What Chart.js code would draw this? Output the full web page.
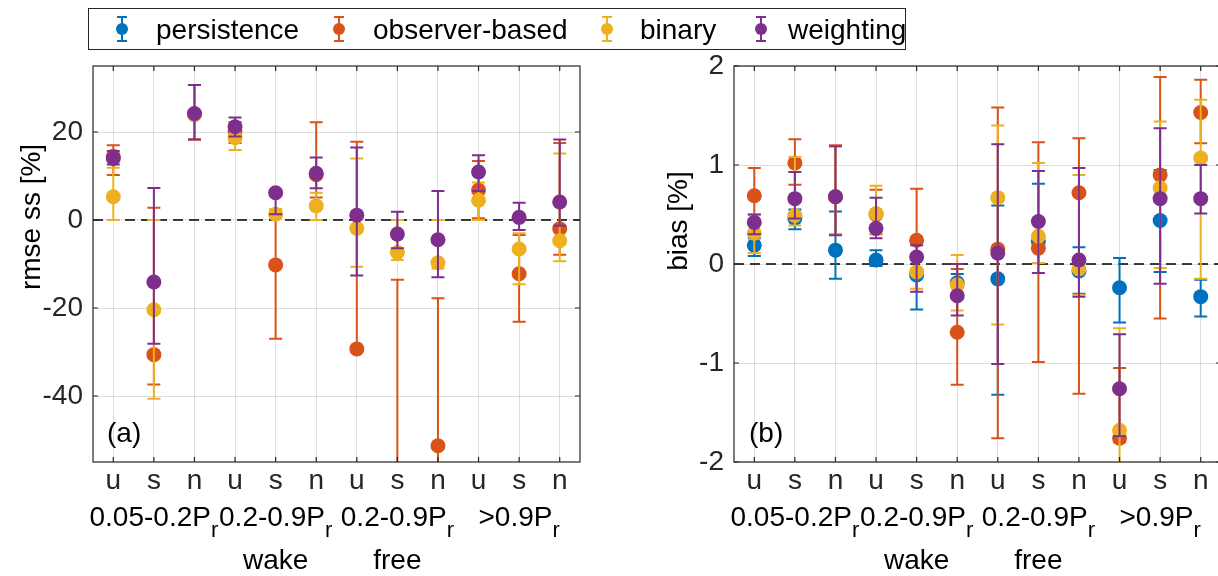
<!DOCTYPE html>
<html>
<head>
<meta charset="utf-8">
<script src="https://cdn.jsdelivr.net/npm/chart.js@4.4.1/dist/chart.umd.min.js"></script>
<style>
html, body { margin: 0; padding: 0; background: #fff; overflow: hidden; width: 1218px; height: 576px; }
#leftChart { position: absolute; left: 0; top: 0; }
#rightChart { position: absolute; left: 609px; top: 0; }
</style>
</head>
<body>
<canvas id="leftChart" width="1218" height="576" style="width:1218px;height:576px"></canvas>
<canvas id="rightChart" width="620" height="576" style="width:620px;height:576px"></canvas>
<script>
// categories and labels
const cats = ['u', 's', 'n', 'u', 's', 'n', 'u', 's', 'n', 'u', 's', 'n'];
const groupNames = ['0.05-0.2P', '0.2-0.9P', '0.2-0.9P', '>0.9P'];
const groupCenters = [2, 5, 8, 11];
const regimeNames = ['wake', 'free'];
const regimeCenters = [5, 8];
const seriesNames = ['persistence', 'observer-based', 'binary', 'weighting'];
const seriesColors = ['#0072BD', '#D95319', '#EDB120', '#7E2F8E'];
const rmseTicks = [-40, -20, 0, 20];
const biasTicks = [-2, -1, 0, 1, 2];

// (a) rmse ss [%]  (persistence is the reference, no points)
const rmsePers   = [null, null, null, null, null, null, null, null, null, null, null, null];
const rmsePersLo = [null, null, null, null, null, null, null, null, null, null, null, null];
const rmsePersHi = [null, null, null, null, null, null, null, null, null, null, null, null];
const rmseObs    = [14.5, -30.6, 24.0, 20.2, -10.2, 10.3, -29.3, -70.0, -51.3, 6.8, -12.2, -2.0];
const rmseObsLo  = [10.2, -37.4, 18.3, 17.5, -27.0, 5.1, -30.0, -110.0, -80.0, 0.4, -23.1, -7.9];
const rmseObsHi  = [17.0, 2.8, 30.7, 22.3, 1.5, 22.2, 17.8, -13.6, -17.8, 13.4, -3.4, 17.5];
const rmseBin    = [5.3, -20.4, 24.0, 18.7, 1.3, 3.2, -1.9, -7.4, -9.7, 4.5, -6.6, -4.7];
const rmseBinLo  = [0.0, -40.6, 18.3, 15.9, 0.5, 0.0, -10.6, -9.1, -11.0, 0.0, -14.6, -9.4];
const rmseBinHi  = [11.9, 0.0, 30.7, 21.5, 2.5, 6.2, 14.0, 0.0, 0.0, 8.5, -3.0, 15.1];
const rmseWei    = [14.0, -14.1, 24.2, 21.2, 6.2, 10.6, 1.1, -3.2, -4.5, 10.9, 0.6, 4.1];
const rmseWeiLo  = [12.6, -28.1, 18.3, 19.0, 1.3, 7.2, -12.6, -6.4, -13.0, 6.6, -2.3, -1.3];
const rmseWeiHi  = [15.7, 7.3, 30.7, 23.3, 6.8, 14.2, 16.5, 1.9, 6.6, 14.7, 3.9, 18.3];

// (b) bias [%]
const biasPers   = [0.19, 0.46, 0.14, 0.04, -0.11, -0.19, -0.15, 0.23, -0.07, -0.24, 0.44, -0.33];
const biasPersLo = [0.08, 0.35, -0.15, -0.02, -0.46, -0.30, -1.32, 0.01, -0.30, -0.59, -0.08, -0.53];
const biasPersHi = [0.26, 0.55, 0.53, 0.14, 0.10, -0.10, 0.59, 0.81, 0.17, 0.06, 0.95, -0.16];
const biasObs    = [0.69, 1.02, 0.68, 0.50, 0.24, -0.69, 0.15, 0.16, 0.72, -1.76, 0.90, 1.53];
const biasObsLo  = [0.42, 0.80, 0.30, 0.30, -0.05, -1.22, -1.76, -0.99, -1.31, -1.80, -0.55, 1.22];
const biasObsHi  = [0.97, 1.26, 1.20, 0.75, 0.76, -0.05, 1.58, 1.23, 1.27, -1.05, 1.89, 1.86];
const biasBin    = [0.31, 0.49, 0.68, 0.51, -0.08, -0.21, 0.67, 0.28, -0.05, -1.68, 0.77, 1.07];
const biasBinLo  = [0.11, 0.39, 0.30, 0.30, -0.25, -0.47, -0.61, 0.01, -0.31, -2.20, -0.04, -0.15];
const biasBinHi  = [0.50, 1.08, 1.19, 0.79, 0.05, 0.09, 1.40, 1.02, 0.90, -0.65, 1.44, 1.66];
const biasWei    = [0.42, 0.66, 0.68, 0.36, 0.07, -0.32, 0.11, 0.43, 0.04, -1.26, 0.66, 0.66];
const biasWeiLo  = [0.30, 0.46, 0.29, 0.26, -0.28, -0.52, -1.01, -0.09, -0.33, -1.74, -0.20, 0.51];
const biasWeiHi  = [0.50, 0.93, 1.19, 0.67, 0.19, 0.00, 1.21, 0.94, 0.97, -0.71, 1.37, 1.00];

const FONT = '"Liberation Sans", Arial, Helvetica, sans-serif';
const AXIS_COLOR = '#262626';
const GRID_COLOR = 'rgba(38,38,38,0.15)';

function buildDatasets(series) {
    return series.map((s, k) => {
        const pts = [], lo = [], hi = [];
        s[0].forEach((v, i) => {
            if (v === null) return;
            pts.push({ x: i + 1, y: v });
            lo.push(s[1][i]);
            hi.push(s[2][i]);
        });
        return {
            label: seriesNames[k],
            data: pts,
            errLo: lo,
            errHi: hi,
            backgroundColor: seriesColors[k],
            borderColor: seriesColors[k],
            pointRadius: 7.5,
            pointHoverRadius: 7.5,
            pointBorderWidth: 0,
            borderWidth: 0,
            showLine: false,
            order: 3 - k,
            clip: 0
        };
    });
}

// error bars, drawn right before each dataset's markers
const errorBarPlugin = {
    id: 'errorBars',
    beforeDatasetDraw(chart, args) {
        const ds = chart.data.datasets[args.index];
        const { ctx, chartArea: a, scales: { x, y } } = chart;
        ctx.save();
        ctx.beginPath();
        ctx.rect(a.left, a.top, a.right - a.left, a.bottom - a.top);
        ctx.clip();
        ctx.strokeStyle = ds.borderColor;
        ctx.lineWidth = 2;
        ds.data.forEach((p, i) => {
            const px = x.getPixelForValue(p.x);
            const lo = y.getPixelForValue(ds.errLo[i]);
            const hi = y.getPixelForValue(ds.errHi[i]);
            ctx.beginPath();
            ctx.moveTo(px, lo); ctx.lineTo(px, hi);
            ctx.moveTo(px - 6.5, lo); ctx.lineTo(px + 6.5, lo);
            ctx.moveTo(px - 6.5, hi); ctx.lineTo(px + 6.5, hi);
            ctx.stroke();
        });
        ctx.restore();
    }
};

// zero line, box and inward ticks
const framePlugin = {
    id: 'frame',
    beforeDatasetsDraw(chart) {
        const { ctx, chartArea: a, scales: { y } } = chart;
        const py = y.getPixelForValue(0);
        ctx.save();
        ctx.strokeStyle = '#000';
        ctx.lineWidth = 1.5;
        ctx.setLineDash([10, 6]);
        ctx.beginPath();
        ctx.moveTo(a.left, py);
        ctx.lineTo(a.right, py);
        ctx.stroke();
        ctx.restore();
    },
    afterDatasetsDraw(chart) {
        const { ctx, chartArea: a, scales: { x, y } } = chart;
        ctx.save();
        ctx.strokeStyle = AXIS_COLOR;
        ctx.lineWidth = 1.2;
        ctx.strokeRect(a.left, a.top, a.right - a.left, a.bottom - a.top);
        ctx.beginPath();
        x.ticks.forEach(t => {
            const px = x.getPixelForValue(t.value);
            ctx.moveTo(px, a.bottom); ctx.lineTo(px, a.bottom - 5);
            ctx.moveTo(px, a.top); ctx.lineTo(px, a.top + 5);
        });
        y.ticks.forEach(t => {
            const py = y.getPixelForValue(t.value);
            ctx.moveTo(a.left, py); ctx.lineTo(a.left + 5, py);
            ctx.moveTo(a.right, py); ctx.lineTo(a.right - 5, py);
        });
        ctx.stroke();
        ctx.restore();
    }
};

// group labels, panel letter, y label, legend
const textPlugin = {
    id: 'panelText',
    afterDraw(chart, args, opts) {
        const { ctx, chartArea: a, scales: { x } } = chart;
        ctx.save();
        ctx.fillStyle = '#000';
        ctx.textBaseline = 'alphabetic';
        groupNames.forEach((name, i) => {
            ctx.font = `28px ${FONT}`;
            const w1 = ctx.measureText(name).width;
            ctx.font = `22px ${FONT}`;
            const w2 = ctx.measureText('r').width;
            const left = x.getPixelForValue(groupCenters[i]) - (w1 + w2) / 2;
            ctx.textAlign = 'left';
            ctx.font = `28px ${FONT}`;
            ctx.fillText(name, left, 526);
            ctx.font = `22px ${FONT}`;
            ctx.fillText('r', left + w1, 537);
        });
        ctx.font = `28px ${FONT}`;
        ctx.textAlign = 'center';
        regimeNames.forEach((name, i) => {
            ctx.fillText(name, x.getPixelForValue(regimeCenters[i]), 569);
        });
        ctx.textAlign = 'left';
        ctx.fillText(opts.letter, a.left + opts.letterDx, 442);
        ctx.save();
        ctx.translate(opts.yLabelX, opts.yLabelY);
        ctx.rotate(-Math.PI / 2);
        ctx.textAlign = 'center';
        ctx.fillText(opts.yLabel, 0, 0);
        ctx.restore();

        if (opts.legend) {
            ctx.fillStyle = '#fff';
            ctx.fillRect(88, 8, 818, 42);
            ctx.strokeStyle = AXIS_COLOR;
            ctx.lineWidth = 1;
            ctx.strokeRect(88.5, 8.5, 817, 41);
            const iconX = [122, 339, 607, 761];
            const textX = [156, 373, 640, 788];
            seriesNames.forEach((name, k) => {
                ctx.strokeStyle = seriesColors[k];
                ctx.fillStyle = seriesColors[k];
                ctx.lineWidth = 2;
                ctx.beginPath();
                ctx.moveTo(iconX[k], 17); ctx.lineTo(iconX[k], 41);
                ctx.moveTo(iconX[k] - 5, 17); ctx.lineTo(iconX[k] + 5, 17);
                ctx.moveTo(iconX[k] - 5, 41); ctx.lineTo(iconX[k] + 5, 41);
                ctx.stroke();
                ctx.beginPath();
                ctx.arc(iconX[k], 29, 6, 0, Math.PI * 2);
                ctx.fill();
                ctx.fillStyle = '#000';
                ctx.textAlign = 'left';
                ctx.fillText(name, textX[k], 39);
            });
        }
        ctx.restore();
    }
};

function makeChart(id, datasets, yMin, yMax, yTicks, yWidth, rightPad, text) {
    return new Chart(document.getElementById(id), {
        type: 'scatter',
        data: { datasets: datasets },
        plugins: [errorBarPlugin, framePlugin, textPlugin],
        options: {
            responsive: false,
            animation: false,
            events: [],
            layout: { padding: { top: 66, right: rightPad, left: 0, bottom: 0 } },
            plugins: {
                legend: { display: false },
                tooltip: { enabled: false },
                panelText: text
            },
            scales: {
                x: {
                    type: 'linear',
                    min: 0.5,
                    max: 12.5,
                    afterBuildTicks: s => { s.ticks = cats.map((c, i) => ({ value: i + 1 })); },
                    afterFit: s => { s.height = 114; },
                    grid: { color: GRID_COLOR, lineWidth: 1, drawTicks: false },
                    border: { display: false },
                    ticks: {
                        autoSkip: false,
                        maxRotation: 0,
                        padding: 2,
                        color: AXIS_COLOR,
                        font: { family: FONT, size: 28 },
                        callback: v => cats[v - 1] || ''
                    }
                },
                y: {
                    type: 'linear',
                    min: yMin,
                    max: yMax,
                    afterBuildTicks: s => { s.ticks = yTicks.map(v => ({ value: v })); },
                    afterFit: s => { s.width = yWidth; },
                    grid: { color: GRID_COLOR, lineWidth: 1, drawTicks: false },
                    border: { display: false },
                    ticks: {
                        padding: 10,
                        color: AXIS_COLOR,
                        font: { family: FONT, size: 28 },
                        callback: v => String(v)
                    }
                }
            }
        }
    });
}

makeChart('leftChart',
    buildDatasets([
        [rmsePers, rmsePersLo, rmsePersHi],
        [rmseObs, rmseObsLo, rmseObsHi],
        [rmseBin, rmseBinLo, rmseBinHi],
        [rmseWei, rmseWeiLo, rmseWeiHi]
    ]),
    -55, 35, rmseTicks, 93, 638,
    { letter: '(a)', letterDx: 14, yLabel: 'rmse ss [%]', yLabelX: 40, yLabelY: 217, legend: true });

makeChart('rightChart',
    buildDatasets([
        [biasPers, biasPersLo, biasPersHi],
        [biasObs, biasObsLo, biasObsHi],
        [biasBin, biasBinLo, biasBinHi],
        [biasWei, biasWeiLo, biasWeiHi]
    ]),
    -2, 2, biasTicks, 125, 8,
    { letter: '(b)', letterDx: 15, yLabel: 'bias [%]', yLabelX: 78, yLabelY: 221, legend: false });
</script>
</body>
</html>
